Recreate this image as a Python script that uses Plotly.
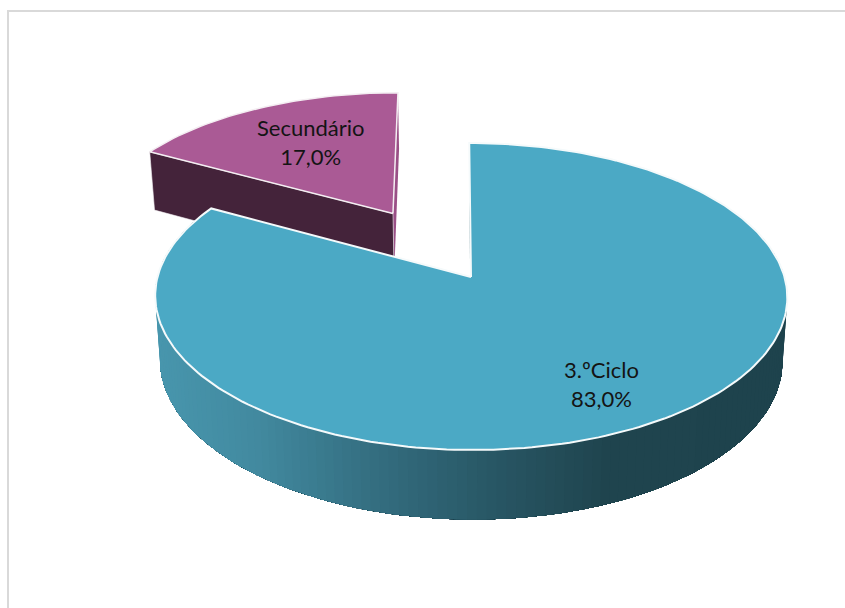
import math
import plotly.graph_objects as go

categories = ["3.ºCiclo", "Secundário"]
values = [83.0, 17.0]
top_colors = ["#4BA9C5", "#AA5A95"]
wall_colors = ["#2A5A68", "#44233A"]
side_wall_color = "#9A4F86"
gradient_x = [160, 260, 380, 500, 610, 790]
gradient_rgb = [(72, 150, 173), (66, 138, 160), (52, 110, 128), (40, 86, 100), (31, 68, 78), (30, 67, 77)]

# projection of the pie onto the page
CX, CY = 471.0, 277.0
B, A, K = 313.5, 151.0, 0.127
LOWER_SCALE, DEPTH = 0.985, 63.0
EXPLODE = 0.5166


def project(x, y, lower=False, shear=0.0, ox=0.0, oy=0.0):
    wx, wy = x + ox, y + oy
    d = 1 + K * wy
    s = LOWER_SCALE if lower else 1.0
    px = CX + s * (B * wx + shear * y) / d
    py = CY - s * A * wy / d + (DEPTH / d if lower else 0.0)
    return px, py


def polar(deg):
    r = math.radians(deg)
    return math.sin(r), math.cos(r)


def gradient_color(x):
    if x <= gradient_x[0]:
        c = gradient_rgb[0]
    elif x >= gradient_x[-1]:
        c = gradient_rgb[-1]
    else:
        for i in range(len(gradient_x) - 1):
            if gradient_x[i] <= x <= gradient_x[i + 1]:
                t = (x - gradient_x[i]) / (gradient_x[i + 1] - gradient_x[i])
                c = tuple(gradient_rgb[i][j] + t * (gradient_rgb[i + 1][j] - gradient_rgb[i][j]) for j in range(3))
                break
    return "rgb(%d,%d,%d)" % tuple(round(v) for v in c)


def poly(points, fill, line=None, width=0.0):
    xs = [p[0] for p in points] + [points[0][0]]
    ys = [p[1] for p in points] + [points[0][1]]
    return go.Scatter(
        x=xs, y=ys, mode="lines", fill="toself", fillcolor=fill,
        line=dict(color=line or fill, width=width), hoverinfo="skip", showlegend=False,
    )


total = sum(values)
main_end = 360.0 * values[0] / total
fig = go.Figure()

# exploded slice
mid = math.radians((main_end + 360.0) / 2)
ox, oy = EXPLODE * math.sin(mid), EXPLODE * math.cos(mid)
SHEAR2 = -4.0
arc2 = [polar(main_end + (360.0 - main_end) * i / 40) for i in range(41)]
apex_top = project(0, 0, False, SHEAR2, ox, oy)
apex_low = project(0, 0, True, SHEAR2, ox, oy)
fig.add_trace(poly([apex_top, project(*arc2[-1], False, SHEAR2, ox, oy), project(*arc2[-1], True, SHEAR2, ox, oy), apex_low], side_wall_color))
fig.add_trace(poly([apex_top, project(*arc2[0], False, SHEAR2, ox, oy), project(*arc2[0], True, SHEAR2, ox, oy), apex_low], wall_colors[1], "#F2EEF1", 0.6))
fig.add_trace(poly([apex_top] + [project(*p, False, SHEAR2, ox, oy) for p in arc2], top_colors[1], "#F4EEF2", 1.5))

# main slice: outer wall painted from right to left, each layer covering the rest
SHEAR1 = -2.0
WALL_FROM = 60.0
layers = 150
for i in range(layers):
    a0 = WALL_FROM + (main_end - WALL_FROM) * i / layers
    n = max(2, layers - i)
    angles = [a0 + (main_end - a0) * j / n for j in range(n + 1)]
    pts = [polar(a) for a in angles]
    quad = [project(*p, False, SHEAR1) for p in pts] + [project(*p, True, SHEAR1) for p in reversed(pts)]
    fig.add_trace(poly(quad, gradient_color(project(*polar(a0), True, SHEAR1)[0])))

m_top = polar(0.0)
fig.add_trace(poly([project(0, 0), project(*m_top, False, SHEAR1), project(*m_top, True, SHEAR1), project(0, 0, True)], wall_colors[0]))
arc1 = [polar(main_end * i / 240) for i in range(241)]
fig.add_trace(poly([project(0, 0)] + [project(*p, False, SHEAR1) for p in arc1], top_colors[0], "#F5FAFB", 2))

label_pos = [(601, 384), (311, 142)]
annotations = [
    dict(
        x=px, y=py, xref="x", yref="y", showarrow=False, align="center",
        text=f"{cat}<br>{val:.1f}%".replace(".0%", ",0%"),
        font=dict(family="Lato, Carlito, sans-serif", size=22, color="#141414"),
    )
    for cat, val, (px, py) in zip(categories, values, label_pos)
]

fig.update_layout(
    width=845, height=608, margin=dict(l=0, r=0, t=0, b=0),
    paper_bgcolor="white", plot_bgcolor="white", showlegend=False,
    xaxis=dict(range=[0, 845], visible=False, fixedrange=True),
    yaxis=dict(range=[608, 0], visible=False, fixedrange=True),
    annotations=annotations,
    shapes=[
        dict(type="line", x0=8, x1=8, y0=10, y1=608, line=dict(color="#D9D9D9", width=2)),
        dict(type="line", x0=7, x1=845, y0=11, y1=11, line=dict(color="#D9D9D9", width=2)),
    ],
)
fig.write_html(
    "out.html",
    config={"displayModeBar": False},
    post_script="document.body.style.margin='0';document.body.style.overflow='hidden';",
)
